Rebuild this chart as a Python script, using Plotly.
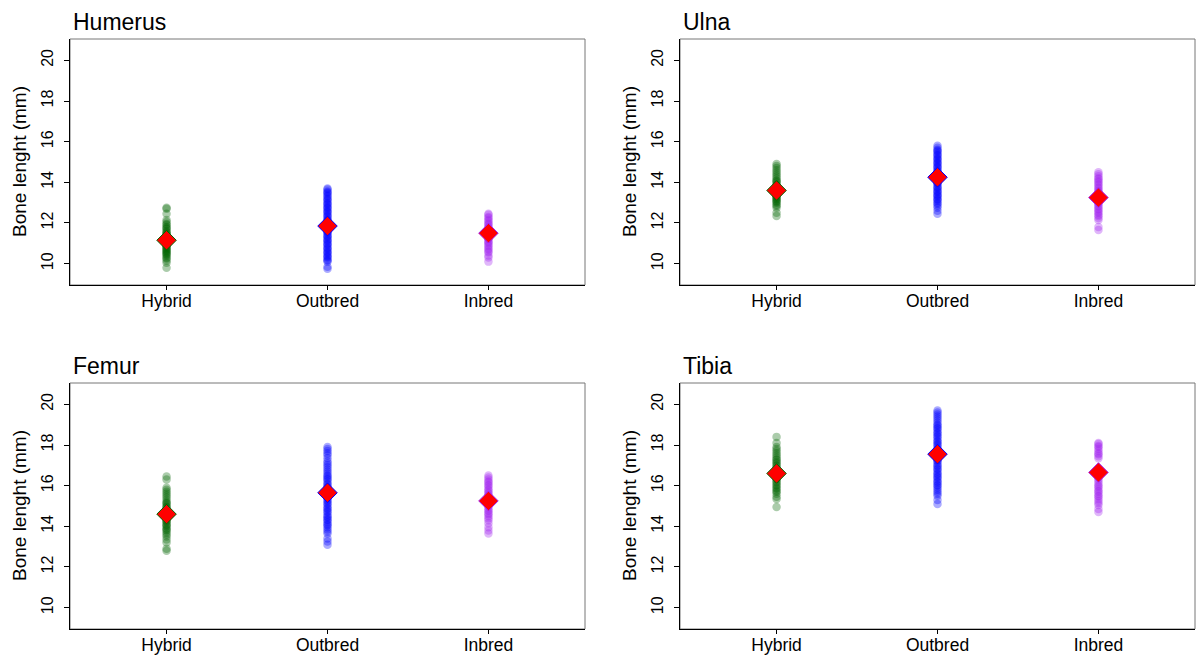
import plotly.graph_objects as go

groups = ["Hybrid", "Outbred", "Inbred"]
bones = ["Humerus", "Ulna", "Femur", "Tibia"]
colors = {"Hybrid": "0,100,0", "Outbred": "0,0,255", "Inbred": "160,32,240"}

humerus_hybrid = [9.8, 10.05, 10.15, 10.25, 10.3, 10.4, 10.45, 10.5, 10.55, 10.6, 10.65, 10.7, 10.75, 10.8, 10.85, 10.9, 10.95, 11.0, 11.05, 11.1, 11.1, 11.15, 11.2, 11.25, 11.3, 11.35, 11.4, 11.45, 11.5, 11.55, 11.6, 11.7, 11.75, 11.8, 11.9, 11.95, 12.05, 12.15, 12.45, 12.7, 12.75]
humerus_outbred = [9.75, 9.85, 10.1, 10.15, 10.2, 10.3, 10.35, 10.4, 10.5, 10.55, 10.6, 10.7, 10.75, 10.8, 10.9, 10.95, 11.0, 11.1, 11.15, 11.2, 11.3, 11.35, 11.4, 11.5, 11.55, 11.6, 11.7, 11.75, 11.8, 11.9, 11.95, 12.0, 12.1, 12.15, 12.2, 12.3, 12.35, 12.4, 12.5, 12.55, 12.6, 12.7, 12.75, 12.8, 12.9, 12.95, 13.0, 13.1, 13.15, 13.2, 13.3, 13.35, 13.45, 13.5, 13.55, 13.65, 13.7]
humerus_inbred = [10.1, 10.3, 10.4, 10.55, 10.6, 10.7, 10.75, 10.85, 10.9, 11.0, 11.05, 11.1, 11.2, 11.25, 11.3, 11.4, 11.45, 11.5, 11.55, 11.6, 11.7, 11.75, 11.8, 11.9, 11.95, 12.0, 12.1, 12.15, 12.25, 12.3, 12.4, 12.45]

ulna_hybrid = [12.35, 12.5, 12.75, 12.85, 12.9, 13.0, 13.05, 13.1, 13.15, 13.2, 13.25, 13.3, 13.35, 13.4, 13.45, 13.5, 13.55, 13.6, 13.65, 13.7, 13.75, 13.8, 13.85, 13.9, 14.0, 14.05, 14.1, 14.2, 14.3, 14.4, 14.5, 14.6, 14.7, 14.8, 14.9]
ulna_outbred = [12.45, 12.6, 12.75, 12.85, 12.95, 13.0, 13.1, 13.15, 13.2, 13.3, 13.35, 13.4, 13.5, 13.55, 13.6, 13.7, 13.75, 13.8, 13.9, 13.95, 14.0, 14.1, 14.15, 14.2, 14.3, 14.35, 14.4, 14.5, 14.55, 14.6, 14.7, 14.75, 14.8, 14.9, 14.95, 15.0, 15.1, 15.15, 15.2, 15.3, 15.35, 15.4, 15.5, 15.55, 15.6, 15.7, 15.8]
ulna_inbred = [11.65, 11.8, 12.15, 12.25, 12.35, 12.4, 12.5, 12.55, 12.65, 12.7, 12.8, 12.85, 12.95, 13.0, 13.1, 13.15, 13.25, 13.3, 13.4, 13.45, 13.55, 13.6, 13.7, 13.75, 13.85, 13.9, 14.0, 14.05, 14.15, 14.2, 14.3, 14.4, 14.5]

femur_hybrid = [12.8, 12.9, 13.2, 13.35, 13.5, 13.6, 13.7, 13.8, 13.85, 13.9, 14.0, 14.05, 14.1, 14.2, 14.25, 14.3, 14.4, 14.45, 14.5, 14.55, 14.6, 14.7, 14.75, 14.8, 14.9, 14.95, 15.0, 15.1, 15.15, 15.2, 15.3, 15.4, 15.5, 15.6, 15.7, 15.8, 15.9, 16.3, 16.45]
femur_outbred = [13.1, 13.25, 13.4, 13.65, 13.75, 13.85, 13.95, 14.05, 14.1, 14.2, 14.3, 14.35, 14.45, 14.5, 14.6, 14.7, 14.75, 14.85, 14.9, 15.0, 15.1, 15.15, 15.25, 15.3, 15.4, 15.5, 15.55, 15.65, 15.7, 15.8, 15.9, 15.95, 16.05, 16.1, 16.2, 16.3, 16.35, 16.45, 16.5, 16.6, 16.7, 16.8, 16.9, 17.0, 17.1, 17.2, 17.35, 17.5, 17.6, 17.7, 17.8, 17.9]
femur_inbred = [13.65, 13.8, 13.95, 14.15, 14.3, 14.4, 14.5, 14.6, 14.65, 14.75, 14.8, 14.9, 15.0, 15.05, 15.15, 15.2, 15.3, 15.35, 15.45, 15.5, 15.6, 15.65, 15.75, 15.8, 15.9, 16.0, 16.05, 16.15, 16.2, 16.3, 16.4, 16.5]

tibia_hybrid = [14.95, 15.35, 15.45, 15.6, 15.7, 15.75, 15.85, 15.9, 16.0, 16.05, 16.15, 16.2, 16.3, 16.35, 16.45, 16.5, 16.55, 16.65, 16.7, 16.8, 16.85, 16.95, 17.0, 17.1, 17.15, 17.25, 17.3, 17.4, 17.5, 17.6, 17.7, 17.8, 17.9, 18.1, 18.4]
tibia_outbred = [15.1, 15.3, 15.5, 15.6, 15.7, 15.8, 15.9, 16.0, 16.05, 16.15, 16.2, 16.3, 16.4, 16.45, 16.55, 16.6, 16.7, 16.8, 16.85, 16.95, 17.0, 17.1, 17.2, 17.25, 17.35, 17.4, 17.5, 17.6, 17.65, 17.75, 17.8, 17.9, 18.0, 18.05, 18.15, 18.2, 18.3, 18.4, 18.45, 18.55, 18.6, 18.7, 18.8, 18.85, 18.95, 19.0, 19.1, 19.2, 19.3, 19.4, 19.5, 19.6, 19.7]
tibia_inbred = [14.7, 14.85, 15.05, 15.15, 15.25, 15.35, 15.45, 15.5, 15.6, 15.7, 15.75, 15.85, 15.95, 16.0, 16.1, 16.2, 16.3, 16.4, 16.5, 16.6, 16.7, 16.8, 17.35, 17.45, 17.55, 17.6, 17.7, 17.8, 17.9, 17.95, 18.05, 18.1]

humerus_means = [11.15, 11.85, 11.5]
ulna_means = [13.6, 14.25, 13.25]
femur_means = [14.6, 15.65, 15.25]
tibia_means = [16.6, 17.55, 16.65]

y_ticks = [10, 12, 14, 16, 18, 20]

data = {
    "Humerus": ([humerus_hybrid, humerus_outbred, humerus_inbred], humerus_means),
    "Ulna": ([ulna_hybrid, ulna_outbred, ulna_inbred], ulna_means),
    "Femur": ([femur_hybrid, femur_outbred, femur_inbred], femur_means),
    "Tibia": ([tibia_hybrid, tibia_outbred, tibia_inbred], tibia_means),
}

W, H = 1202, 655
# panel boxes in pixels (left, right, top, bottom)
boxes = {
    "Humerus": (70, 585, 39, 285),
    "Ulna": (680, 1195, 39, 285),
    "Femur": (70, 585, 383, 629),
    "Tibia": (680, 1195, 383, 629),
}

fig = go.Figure()
font = "Liberation Sans, Arial, sans-serif"
annotations = []
shapes = []
for i, bone in enumerate(bones):
    n = "" if i == 0 else str(i + 1)
    xa, ya = "x" + n, "y" + n
    l, r, t, b = boxes[bone]
    vals, means = data[bone]
    for gi, g in enumerate(groups):
        fig.add_trace(go.Scatter(
            x=[gi + 1] * len(vals[gi]), y=vals[gi], mode="markers",
            marker=dict(symbol="circle", size=8.5, color=f"rgba({colors[g]},0.33)", line=dict(width=0)),
            xaxis=xa, yaxis=ya, showlegend=False, hoverinfo="y"))
    for gi, g in enumerate(groups):
        fig.add_trace(go.Scatter(
            x=[gi + 1], y=[means[gi]], mode="markers",
            marker=dict(symbol="diamond", size=15, color="red", line=dict(width=1, color=f"rgb({colors[g]})")),
            xaxis=xa, yaxis=ya, showlegend=False, hoverinfo="y"))
    fig.layout["xaxis" + n] = dict(
        domain=[l / W, r / W], range=[0.4, 3.6], anchor=ya, automargin=False,
        tickvals=[1, 2, 3], ticktext=groups, ticks="outside", ticklen=4, tickcolor="black",
        ticklabelstandoff=-4,
        showline=True, linecolor="black", linewidth=1, showgrid=False, zeroline=False,
        tickfont=dict(size=17.5, color="black", family=font), fixedrange=True)
    fig.layout["yaxis" + n] = dict(
        domain=[1 - b / H, 1 - t / H], range=[8.95, 21.05], anchor=xa, automargin=False,
        tickvals=y_ticks, ticktext=[str(v) for v in y_ticks], ticks="outside", ticklen=5, tickcolor="black",
        tickangle=-90, ticklabelstandoff=5,
        showline=True, linecolor="black", linewidth=1, showgrid=False, zeroline=False,
        tickfont=dict(size=16, color="black", family=font), fixedrange=True)
    shapes.append(dict(type="rect", xref=xa + " domain", yref=ya + " domain", x0=0, x1=1, y0=0, y1=1,
                       line=dict(color="#777777", width=1), layer="below"))
    annotations.append(dict(text=bone, x=(l + 1) / W, y=1 - (t - 2) / H, xref="paper", yref="paper",
                            xanchor="left", yanchor="bottom", showarrow=False,
                            font=dict(size=23, color="black", family=font)))
    annotations.append(dict(text="Bone lenght (mm)", x=(l - 51) / W, y=1 - ((t + b) / 2) / H,
                            xref="paper", yref="paper", xanchor="center", yanchor="middle",
                            textangle=-90, showarrow=False,
                            font=dict(size=19, color="black", family=font)))

fig.update_layout(width=W, height=H, margin=dict(l=0, r=0, t=0, b=0, autoexpand=False),
                  plot_bgcolor="white", paper_bgcolor="white",
                  annotations=annotations, shapes=shapes)
fig.write_html("out.html")
